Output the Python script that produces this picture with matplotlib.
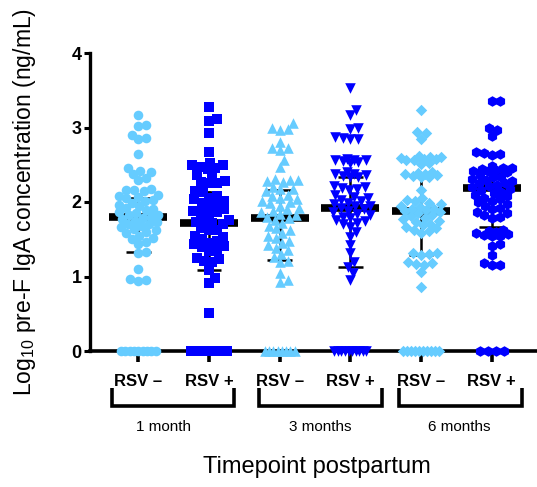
import numpy as np
import matplotlib
matplotlib.use("Agg")
import matplotlib.pyplot as plt
from matplotlib.lines import Line2D
from matplotlib.transforms import blended_transform_factory

plt.rcParams['font.family'] = ['Liberation Sans', 'DejaVu Sans']
plt.rcParams['mathtext.fontset'] = 'custom'
plt.rcParams['mathtext.rm'] = 'Liberation Sans'

# ---------------- data ----------------
group_labels = ["RSV –", "RSV +", "RSV –", "RSV +", "RSV –", "RSV +"]
timepoints = ["1 month", "3 months", "6 months"]

g1 = [3.17, 3.04, 3.02, 2.90, 2.86, 2.84, 2.64, 2.46, 2.42, 2.40, 2.38, 2.32, 2.30,
      2.18, 2.16, 2.16, 2.15, 2.10, 2.08, 2.07, 2.05, 2.03, 2.01, 1.98, 1.96, 1.94,
      1.92, 1.91, 1.89, 1.87, 1.85, 1.83, 1.82, 1.80, 1.79, 1.77, 1.75, 1.73, 1.71,
      1.70, 1.68, 1.66, 1.64, 1.62, 1.60, 1.58, 1.55, 1.52, 1.50, 1.46, 1.44, 1.33,
      1.31, 1.10, 0.96, 0.95, 0.94]
g2 = [3.27, 3.11, 3.09, 2.92, 2.67, 2.52, 2.50, 2.49, 2.47, 2.46, 2.44, 2.36, 2.35,
      2.28, 2.27, 2.26, 2.25, 2.15, 2.13, 2.08, 2.06, 2.04, 2.02, 1.99, 1.97, 1.95,
      1.90, 1.88, 1.87, 1.86, 1.84, 1.76, 1.74, 1.73, 1.72, 1.70, 1.65, 1.63, 1.62,
      1.55, 1.53, 1.51, 1.47, 1.45, 1.43, 1.41, 1.39, 1.36, 1.34, 1.25, 1.23, 1.21,
      1.19, 1.09, 0.98, 0.91, 0.51]
g3 = [3.06, 2.99, 2.98, 2.97, 2.81, 2.73, 2.72, 2.70, 2.56, 2.47, 2.31, 2.30, 2.29,
      2.28, 2.27, 2.20, 2.18, 2.17, 2.15, 2.10, 2.08, 2.06, 2.04, 2.02, 2.00, 1.98,
      1.95, 1.92, 1.90, 1.88, 1.86, 1.84, 1.82, 1.80, 1.78, 1.76, 1.72, 1.68, 1.65,
      1.62, 1.58, 1.55, 1.52, 1.48, 1.45, 1.42, 1.38, 1.35, 1.30, 1.26, 1.21, 1.19,
      1.05, 0.95, 0.93]
g4 = [3.53, 3.24, 3.17, 3.00, 2.98, 2.87, 2.86, 2.85, 2.84, 2.58, 2.57, 2.56, 2.56,
      2.55, 2.54, 2.53, 2.40, 2.38, 2.37, 2.36, 2.35, 2.34, 2.33, 2.22, 2.20, 2.19,
      2.18, 2.16, 2.10, 2.07, 2.05, 2.03, 2.01, 1.99, 1.97, 1.95, 1.94, 1.92, 1.90,
      1.88, 1.86, 1.84, 1.82, 1.80, 1.78, 1.76, 1.74, 1.72, 1.70, 1.67, 1.60, 1.53,
      1.42, 1.31, 1.20, 1.13, 1.05, 0.95]
g5 = [3.24, 2.94, 2.93, 2.85, 2.62, 2.60, 2.59, 2.58, 2.57, 2.57, 2.58, 2.60, 2.52,
      2.51, 2.40, 2.39, 2.38, 2.37, 2.36, 2.35, 2.34, 2.33, 2.16, 2.05, 2.03, 2.01,
      1.99, 1.97, 1.95, 1.93, 1.91, 1.90, 1.89, 1.88, 1.87, 1.85, 1.83, 1.81, 1.79,
      1.77, 1.75, 1.73, 1.71, 1.69, 1.67, 1.65, 1.63, 1.61, 1.59, 1.32, 1.31, 1.30,
      1.29, 1.19, 1.18, 1.17, 1.16, 1.06, 0.86]
g6 = [3.36, 3.35, 2.99, 2.97, 2.89, 2.67, 2.66, 2.64, 2.63, 2.48, 2.46, 2.45, 2.44,
      2.43, 2.42, 2.41, 2.40, 2.36, 2.34, 2.33, 2.31, 2.30, 2.28, 2.26, 2.25, 2.23,
      2.21, 2.20, 2.18, 2.16, 2.14, 2.12, 2.10, 2.08, 2.06, 2.04, 2.02, 2.00, 1.97,
      1.95, 1.92, 1.90, 1.87, 1.85, 1.82, 1.80, 1.78, 1.62, 1.61, 1.60, 1.59, 1.57,
      1.56, 1.55, 1.54, 1.43, 1.41, 1.29, 1.18, 1.16, 1.15]
zero_counts = [9, 12, 8, 10, 10, 4]

medians = [1.80, 1.72, 1.79, 1.92, 1.88, 2.19]
q1 = [1.33, 1.09, 1.22, 1.13, 1.29, 1.67]
q3 = [2.05, 2.14, 2.16, 2.34, 2.36, 2.39]

groups = [g1, g2, g3, g4, g5, g6]

# ---------------- style ----------------
LIGHT = '#66CCFF'
DARK = '#0000FF'
colors = [LIGHT, DARK, LIGHT, DARK, LIGHT, DARK]
markers = ['o', 's', '^', 'v', 'D', 'h']
msizes = [48, 42, 58, 58, 34, 58]
zero_widths = [35, 36, 30, 32, 36, 24]

W, H = 537, 487
fig = plt.figure(figsize=(W / 100, H / 100), dpi=100)
ax_left, ax_right, ax_bot, ax_top = 89.5, 537, 351, 53
ax = fig.add_axes([ax_left / W, 1 - ax_bot / H, (ax_right - ax_left) / W, (ax_bot - ax_top) / H])
ax.set_ylim(0, 4)
ax.set_xlim(0.31, 6.64)
XPX = (ax_right - ax_left) / (6.64 - 0.31)
YPX = (ax_bot - ax_top) / 4.0


def swarm(vals, d=8.0, cap=20.0):
    ys = np.asarray(vals, dtype=float) * YPX
    order = np.argsort(ys)
    placed = []
    xs = np.zeros(len(ys))
    for i in order:
        y = ys[i]
        near = [(px, py) for px, py in placed if abs(py - y) < d]
        cands = [0.0]
        for px, py in near:
            dx = np.sqrt(max(d * d - (py - y) ** 2, 0))
            cands += [px + dx, px - dx]
        cands = sorted(cands, key=abs)
        chosen = None
        for c in cands:
            if abs(c) > cap:
                continue
            if all((c - px) ** 2 + (y - py) ** 2 >= d * d - 1e-6 for px, py in near):
                chosen = c
                break
        if chosen is None:
            grid = np.linspace(-cap, cap, 41)
            best, bestd = 0.0, -1
            for c in grid:
                md = min(((c - px) ** 2 + (y - py) ** 2) for px, py in near) if near else 1e9
                if md > bestd + 1e-9 or (abs(md - bestd) < 1e-9 and abs(c) < abs(best)):
                    best, bestd = c, md
            chosen = best
        xs[i] = chosen
        placed.append((chosen, y))
    return xs / XPX


for i, vals in enumerate(groups):
    pos = i + 1
    # median bar and interquartile whiskers (behind points)
    ax.plot([pos - 0.41, pos + 0.41], [medians[i]] * 2, color='black', lw=5.5,
            solid_capstyle='butt', zorder=2)
    ax.plot([pos, pos], [q1[i], q3[i]], color='black', lw=1.8, zorder=2)
    for q in (q1[i], q3[i]):
        ax.plot([pos - 0.175, pos + 0.175], [q, q], color='black', lw=1.8,
                solid_capstyle='butt', zorder=2)
    offs = swarm(vals)
    ax.scatter(pos + offs, vals, s=msizes[i], marker=markers[i], color=colors[i],
               linewidths=0, zorder=3, clip_on=False)
    # zero values, packed in a row on the axis
    n0 = zero_counts[i]
    zoffs = np.linspace(-zero_widths[i] / 2, zero_widths[i] / 2, n0) / XPX
    ax.scatter(pos + zoffs, np.zeros(n0), s=msizes[i], marker=markers[i], color=colors[i],
               linewidths=0, zorder=3, clip_on=False)

# axes styling
for s in ('top', 'right'):
    ax.spines[s].set_visible(False)
ax.spines['left'].set_linewidth(2.4)
ax.spines['bottom'].set_linewidth(2.6)
ax.spines['left'].set_zorder(2.5)
ax.spines['bottom'].set_zorder(2.5)
ax.set_yticks([0, 1, 2, 3, 4])
ax.set_yticklabels(['0', '1', '2', '3', '4'], fontsize=13, fontweight='bold')
ax.tick_params(axis='y', length=4.5, width=2.2, pad=1)
ax.set_xticks(range(1, 7))
ax.set_xticklabels([])
ax.tick_params(axis='x', length=8, width=2.6)

# group labels under ticks
tr = blended_transform_factory(ax.transData, fig.transFigure)
for i, lab in enumerate(group_labels):
    ax.text(i + 1, 1 - 381 / H, lab, transform=tr, ha='center', va='center',
            fontsize=12, fontweight='bold')

# brackets (pixel-based layout)
brackets = [(111.7, 234.0), (259.3, 381.7), (399.3, 521.7)]
label_x = [163.3, 320.0, 459.0]
for (xa, xb), lx, t in zip(brackets, label_x, timepoints):
    xs = [xa / W, xa / W, xb / W, xb / W]
    ys = [1 - 388 / H, 1 - 406 / H, 1 - 406 / H, 1 - 388 / H]
    fig.add_artist(Line2D(xs, ys, transform=fig.transFigure, color='black', lw=2.6,
                          solid_joinstyle='miter', solid_capstyle='butt'))
    fig.text(lx / W, 1 - 427 / H, t, ha='center', va='center', fontsize=11)

fig.text(316.7 / W, 1 - 467 / H, 'Timepoint postpartum', ha='center', va='center', fontsize=17)
fig.text(25 / W, 1 - 202 / H, r'Log$_\mathregular{10}$ pre-F IgA concentration (ng/mL)',
         ha='center', va='center', rotation=90, fontsize=16.5)

fig.savefig('out.png', dpi=100)
